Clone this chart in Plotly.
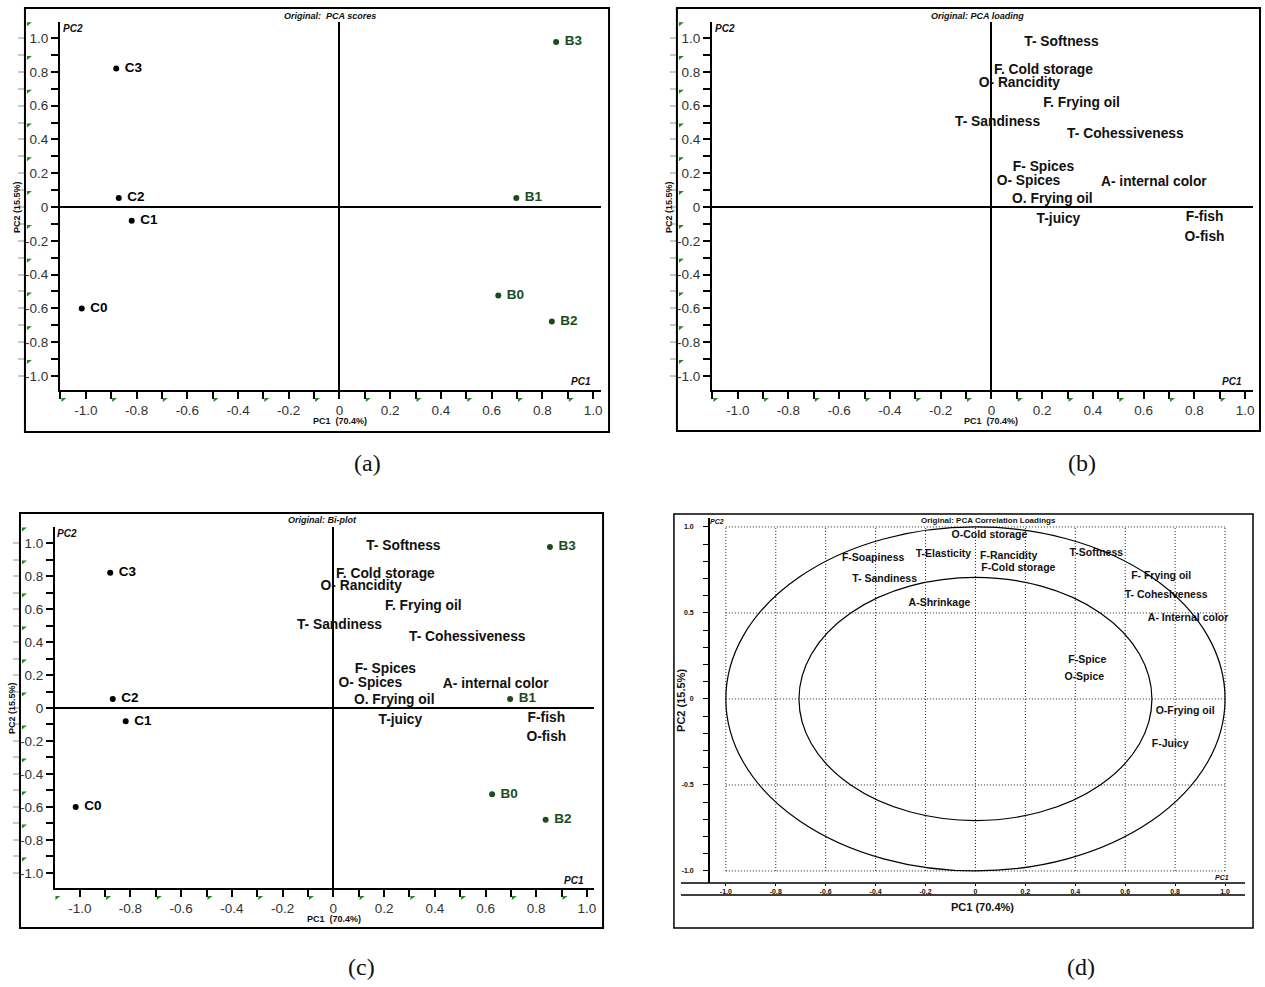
import plotly.graph_objects as go

W, H = 1265, 987

# ---------------- data ----------------
score_labels = ["C0", "C1", "C2", "C3", "B0", "B1", "B2", "B3"]
score_group = ["C", "C", "C", "C", "B", "B", "B", "B"]
score_pc1 = [-1.016, -0.819, -0.870, -0.880, 0.626, 0.697, 0.837, 0.854]
score_pc2 = [-0.600, -0.081, 0.054, 0.820, -0.523, 0.054, -0.677, 0.976]

loading_labels = ["T- Softness", "F. Cold storage", "O- Rancidity", "F. Frying oil",
                  "T- Sandiness", "T- Cohessiveness", "F- Spices", "O- Spices",
                  "A- internal color", "O. Frying oil", "T-juicy", "F-fish", "O-fish"]
loading_pc1 = [0.276, 0.205, 0.110, 0.355, 0.024, 0.528, 0.205, 0.146, 0.640, 0.240, 0.264, 0.840, 0.840]
loading_pc2 = [0.976, 0.810, 0.733, 0.615, 0.497, 0.426, 0.231, 0.148, 0.142, 0.047, -0.077, -0.065, -0.178]

corr_labels = ["O-Cold storage", "F-Soapiness", "T-Elasticity", "F-Rancidity", "F-Cold storage",
               "T- Sandiness", "A-Shrinkage", "T-Softness", "F- Frying oil", "T- Cohesiveness",
               "A- Internal color", "F-Spice", "O-Spice", "O-Frying oil", "F-Juicy"]
corr_pc1 = [0.056, -0.410, -0.128, 0.133, 0.172, -0.364, -0.144, 0.484, 0.744, 0.764,
            0.852, 0.448, 0.436, 0.840, 0.780]
corr_pc2 = [0.953, 0.820, 0.843, 0.826, 0.762, 0.698, 0.558, 0.849, 0.715, 0.605,
            0.471, 0.227, 0.128, -0.070, -0.262]

tick_vals = [round(-1.1 + 0.1 * i, 1) for i in range(22)]          # -1.1 .. 1.0
tick_text = [("0" if v == 0 else f"{v:.1f}") if round(v * 10) % 2 == 0 else "" for v in tick_vals]
ytick_vals = [round(-1.0 + 0.1 * i, 1) for i in range(21)]
ytick_text = [("0" if v == 0 else f"{v:.1f}") if round(v * 10) % 2 == 0 else "" for v in ytick_vals]
flag_vals = [round(-1.1 + 0.2 * i, 1) for i in range(11)]           # odd tenths -1.1..0.9
yflag_vals = [round(-0.9 + 0.2 * i, 1) for i in range(11)]          # -0.9 .. 1.1

corr_xticks = [round(-1.0 + 0.2 * i, 1) for i in range(11)]
corr_xtext = ["0" if v == 0 else f"{v:.1f}" for v in corr_xticks]
corr_yticks = [round(-1.0 + 0.1 * i, 1) for i in range(21)]
corr_ytext = [("0" if v == 0 else f"{v:.1f}") if round(v * 10) % 5 == 0 else "" for v in corr_yticks]
grid_x = corr_xticks
grid_y = [-1.0, -0.5, 0.0, 0.5, 1.0]
circle_r = [1.0, 0.707]

# ---------------- helpers ----------------
FONT = "Liberation Sans, Arial, sans-serif"
GREEN = "#1b4d1b"
FLAG = "#1c8c1c"


def xd(p):
    return p / W


def yd(p):
    return 1 - p / H


panels = {
    "a": dict(n="", x0=60, x1=602, y0=22, y1=390, xr=[-1.102, 1.031], yr=[-1.083, 1.095], box=(25, 8, 610, 432), ghost=5),
    "b": dict(n="2", x0=713, x1=1255, y0=22, y1=390, xr=[-1.102, 1.031], yr=[-1.083, 1.095], box=(678, 8, 1262, 431), ghost=6),
    "c": dict(n="3", x0=55, x1=595, y0=527, y1=888, xr=[-1.098, 1.028], yr=[-1.091, 1.097], box=(20, 513, 604, 928), ghost=7),
}

fig = go.Figure()
layout = dict(width=W, height=H, margin=dict(l=0, r=0, t=0, b=0),
              paper_bgcolor="white", plot_bgcolor="white", showlegend=False,
              font=dict(family=FONT, color="#222"))
shapes = []
annotations = []


def ann(px, py, text, size, family=FONT, angle=0, color="#111"):
    annotations.append(dict(x=xd(px), y=yd(py), xref="paper", yref="paper", text=text,
                            showarrow=False, xanchor="center", yanchor="middle",
                            textangle=angle, font=dict(size=size, family=family, color=color)))


def flag(px, py):
    path = "M %.5f %.5f L %.5f %.5f L %.5f %.5f Z" % (xd(px), yd(py), xd(px + 5), yd(py), xd(px), yd(py + 4))
    shapes.append(dict(type="path", xref="paper", yref="paper", path=path,
                       fillcolor=FLAG, line=dict(width=0), layer="above"))


for key, p in panels.items():
    n = p["n"]
    xa = "xaxis" + n
    ya = "yaxis" + n
    xs = "x" + n
    ys = "y" + n
    layout[xa] = dict(domain=[xd(p["x0"]), xd(p["x1"])], range=p["xr"], anchor=ys,
                      showline=True, linecolor="black", linewidth=2, mirror=False,
                      ticks="outside", ticklen=7, tickwidth=2, tickcolor="black",
                      tickvals=tick_vals, ticktext=tick_text, showgrid=False,
                      zeroline=True, zerolinecolor="black", zerolinewidth=1.5,
                      tickfont=dict(size=13.5, color="#333"), fixedrange=True)
    layout[ya] = dict(domain=[yd(p["y1"]), yd(p["y0"])], range=p["yr"], anchor=xs,
                      showline=True, linecolor="black", linewidth=2,
                      ticks="outside", ticklen=7, tickwidth=2, tickcolor="black",
                      tickvals=ytick_vals, ticktext=ytick_text, showgrid=False,
                      zeroline=True, zerolinecolor="black", zerolinewidth=2,
                      tickfont=dict(size=13.5, color="#333"), fixedrange=True)
    g = "yaxis%d" % p["ghost"]
    layout[g] = dict(overlaying=ys, anchor="free", position=xd(p["box"][0] + 1), side="left",
                     range=p["yr"], showline=False, ticks="outside", ticklen=8, tickwidth=2,
                     tickcolor="#c8c8c8", tickvals=tick_vals + [1.1], showticklabels=False,
                     showgrid=False, zeroline=False, fixedrange=True)
    fig.add_trace(go.Scatter(x=[0], y=[0], mode="markers", marker=dict(opacity=0),
                             xaxis=xs, yaxis="y%d" % p["ghost"], hoverinfo="skip"))

    # decorative green flags at the odd tenth ticks
    xr0, xr1 = p["xr"]
    yr0, yr1 = p["yr"]
    ux = (p["x1"] - p["x0"]) / (xr1 - xr0)
    uy = (p["y1"] - p["y0"]) / (yr1 - yr0)
    for v in yflag_vals:
        flag(p["box"][0] + 2, p["y0"] + (yr1 - v) * uy + 1)
    for v in flag_vals:
        flag(p["x0"] + (v - xr0) * ux + 1, p["y1"] + 8)

    bx0, by0, bx1, by1 = p["box"]
    shapes.append(dict(type="rect", xref="paper", yref="paper", x0=xd(bx0), x1=xd(bx1),
                       y0=yd(by1), y1=yd(by0), line=dict(color="black", width=2)))

    if key in ("a", "c"):
        for grp, col in (("C", "black"), ("B", GREEN)):
            idx = [i for i, g_ in enumerate(score_group) if g_ == grp]
            fig.add_trace(go.Scatter(
                x=[score_pc1[i] for i in idx], y=[score_pc2[i] for i in idx],
                text=[score_labels[i] for i in idx], mode="markers+text",
                textposition="middle right", cliponaxis=False,
                marker=dict(size=6, color=col),
                textfont=dict(size=13.5, color=col, family=FONT),
                texttemplate="\u00a0<b>%{text}</b>", xaxis=xs, yaxis=ys, hoverinfo="skip"))
    if key in ("b", "c"):
        fig.add_trace(go.Scatter(
            x=loading_pc1, y=loading_pc2, text=loading_labels, mode="text",
            textposition="middle center", cliponaxis=False,
            textfont=dict(size=13.8, color="#111", family=FONT),
            texttemplate="<b>%{text}</b>", xaxis=xs, yaxis=ys, hoverinfo="skip"))

# ---------------- panel d ----------------
layout["xaxis4"] = dict(domain=[xd(711), xd(1247)], range=[-1.064, 1.08], anchor="y4",
                        showline=False, ticks="outside", ticklen=2, tickwidth=1, tickcolor="black",
                        tickvals=corr_xticks, ticktext=corr_xtext, showgrid=False, zeroline=False,
                        tickfont=dict(size=7, color="#111", family=FONT, weight="bold"), fixedrange=True)
layout["yaxis4"] = dict(domain=[yd(883), yd(518)], range=[-1.07, 1.052], anchor="x4",
                        showline=True, linecolor="black", linewidth=1.5,
                        ticks="outside", ticklen=5, tickwidth=1, tickcolor="black",
                        tickvals=corr_yticks, ticktext=corr_ytext, ticklabelstandoff=8,
                        showgrid=False, zeroline=False,
                        tickfont=dict(size=7, color="#111", family=FONT, weight="bold"), fixedrange=True)

for gx in grid_x:
    shapes.append(dict(type="line", xref="x4", yref="y4", x0=gx, x1=gx, y0=grid_y[0], y1=grid_y[-1],
                       line=dict(color="#222", width=1, dash="1px,2px"), layer="below"))
for gy in grid_y:
    shapes.append(dict(type="line", xref="x4", yref="y4", x0=grid_x[0], x1=grid_x[-1], y0=gy, y1=gy,
                       line=dict(color="#222", width=1, dash="1px,2px"), layer="below"))
for r in circle_r:
    shapes.append(dict(type="circle", xref="x4", yref="y4", x0=-r, x1=r, y0=-r, y1=r,
                       line=dict(color="black", width=1.2)))
for py in (883, 895):
    shapes.append(dict(type="line", xref="paper", yref="paper", x0=xd(682), x1=xd(1247),
                       y0=yd(py), y1=yd(py), line=dict(color="black", width=1.5)))
shapes.append(dict(type="rect", xref="paper", yref="paper", x0=xd(675), x1=xd(1255),
                   y0=yd(928), y1=yd(514), line=dict(color="black", width=1.5)))

fig.add_trace(go.Scatter(x=corr_pc1, y=corr_pc2, text=corr_labels, mode="text",
                         textposition="middle center", cliponaxis=False,
                         textfont=dict(size=10.5, color="#111", family=FONT),
                         texttemplate="<b>%{text}</b>", xaxis="x4", yaxis="y4", hoverinfo="skip"))

# ---------------- text decorations ----------------
ann(331, 16, "<b><i>Original:  PCA scores</i></b>", 9)
ann(979, 16, "<b><i>Original: PCA loading</i></b>", 9)
ann(323, 520, "<b><i>Original: Bi-plot</i></b>", 9)
ann(990, 520, "<b>Original: PCA Correlation Loadings</b>", 8)

ann(73, 29, "<b><i>PC2</i></b>", 10)
ann(726, 28, "<b><i>PC2</i></b>", 10)
ann(67, 533, "<b><i>PC2</i></b>", 10)
ann(718, 521, "<b><i>PC2</i></b>", 7)

ann(582, 382, "<b><i>PC1</i></b>", 10)
ann(1234, 382, "<b><i>PC1</i></b>", 10)
ann(575, 880, "<b><i>PC1</i></b>", 10)
ann(1224, 877, "<b><i>PC1</i></b>", 7)

ann(341, 421, "<b>PC1  (70.4%)</b>", 9)
ann(993, 421, "<b>PC1  (70.4%)</b>", 9)
ann(335, 919, "<b>PC1  (70.4%)</b>", 9)
ann(984, 907, "<b>PC1 (70.4%)</b>", 11)

ann(17, 207, "<b>PC2 (15.5%)</b>", 9, angle=-90)
ann(670, 207, "<b>PC2 (15.5%)</b>", 9, angle=-90)
ann(12, 708, "<b>PC2 (15.5%)</b>", 9, angle=-90)
ann(682, 700, "<b>PC2 (15.5%)</b>", 11, angle=-90)

SERIF = "Liberation Serif, Times New Roman, serif"
ann(368, 463, "(a)", 24, family=SERIF)
ann(1084, 463, "(b)", 24, family=SERIF)
ann(362, 967, "(c)", 24, family=SERIF)
ann(1083, 967, "(d)", 24, family=SERIF)

layout["shapes"] = shapes
layout["annotations"] = annotations
fig.update_layout(**layout)
fig.write_html("out.html", config={"displayModeBar": False},
               post_script="document.body.style.margin='0px';document.body.style.overflow='hidden';")
